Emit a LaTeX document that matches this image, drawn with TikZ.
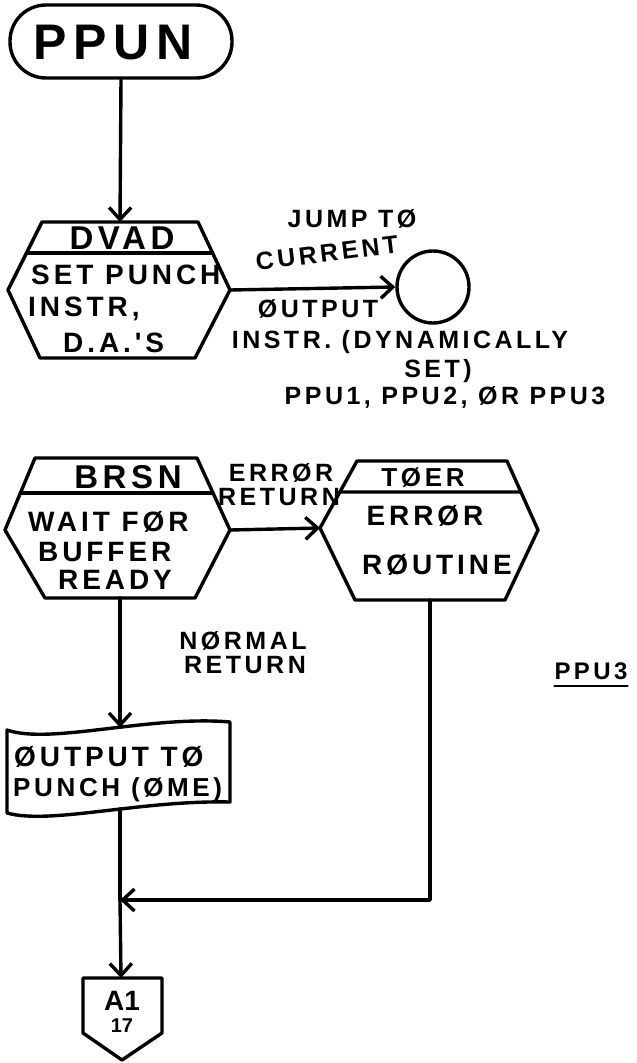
\documentclass[tikz,border=0pt]{standalone}
\usepackage{fontspec}
\setmainfont{Liberation Sans}
\newfontfamily\hand[LetterSpace=14]{Liberation Sans}
\usetikzlibrary{arrows.meta,calc}
\tikzset{
  ln/.style={line width=3.4pt, line join=round, line cap=round},
  arr/.style={ln, -{Straight Barb[length=12pt,width=22pt,line width=3.4pt]}},
  txt/.style={inner sep=0pt, font=\hand\bfseries\fontsize{28}{30}\selectfont},
  lbl/.style={inner sep=0pt, font=\hand\bfseries\fontsize{25}{28}\selectfont},
  ttl/.style={inner sep=0pt, font=\hand\bfseries\fontsize{33}{35}\selectfont},
}
\begin{document}
\begin{tikzpicture}[x=1pt,y=-1pt]
\useasboundingbox (0,0) rectangle (637,1063);
% terminal
\node[ln, draw, rounded corners=36pt, minimum width=222pt, minimum height=73pt] (ppun) at (121,41.5) {};
\node[inner sep=0pt, font=\hand\bfseries\fontsize{50}{52}\selectfont, anchor=west] (ppunt) at (33,43) {PPUN};

% DVAD hexagon
\coordinate (dT) at (120,222);
\coordinate (dR) at (230,290);
\coordinate (dB) at (120,358);
\draw[ln] (42,222) coordinate (dtl) -- (198,222) coordinate (dtr) -- (dR) -- (195,358) -- (40,358) -- (8,290) coordinate (dL) -- cycle;
\draw[ln] ($(dL)!0.544!(dtl)$) -- ($(dR)!0.544!(dtr)$);
\node[ttl] (dvad) at (122,238) {DVAD};
\node[txt, anchor=west] (d1) at (31,275) {SET PUNCH};
\node[txt, anchor=west] (d2) at (28,309) {INSTR,};
\node[txt, anchor=west] (d3) at (63,343) {D.A.'S};

% jump connector
\node[ln, draw, circle, minimum size=72pt, inner sep=0pt] (jump) at (433,287) {};
\draw[arr] (dR) -- (jump.west);
\node[lbl] (l1) at (352,219) {JUMP T\O};
\node[lbl, rotate=7] (l2) at (327,253) {CURRENT};
\node[lbl] (l3) at (318,309) {\O UTPUT};
\node[lbl] (l4) at (400,342) {INSTR. (DYNAMICALLY};
\node[lbl] (l5) at (438,371) {SET)};
\node[lbl] (l6) at (445,397) {PPU1, PPU2, \O R PPU3};

% BRSN hexagon
\coordinate (bR) at (230,530);
\coordinate (bB) at (120,598);
\draw[ln] (35,458) coordinate (btl) -- (197,458) coordinate (btr) -- (bR) -- (195,598) -- (45,598) -- (5,530) coordinate (bL) -- cycle;
\draw[ln] ($(bL)!0.514!(btl)$) -- ($(bR)!0.514!(btr)$);
\node[ttl] (brsn) at (128,477) {BRSN};
\node[txt, anchor=west] (b1) at (28,522) {WAIT F\O R};
\node[txt, anchor=west] (b2) at (38,552) {BUFFER};
\node[txt, anchor=west] (b3) at (58,580) {READY};

% TOER hexagon
\coordinate (tL) at (320,528);
\coordinate (tB) at (430,600);
\draw[ln] (357,461) coordinate (ttl) -- (507,461) coordinate (ttr) -- (538,530) coordinate (tR) -- (505,600) -- (355,600) -- (tL) -- cycle;
\draw[ln] ($(tL)!0.537!(ttl)$) -- ($(tR)!0.551!(ttr)$);
\node[inner sep=0pt, font=\hand\bfseries\fontsize{26}{28}\selectfont] (toer) at (423,478) {T\O ER};
\node[txt] (t1) at (425,516) {ERR\O R};
\node[txt] (t2) at (437,565) {R\O UTINE};

\draw[arr] (bR) -- (tL);
\node[lbl] (e1) at (281,473) {ERR\O R};
\node[lbl] (e2) at (279,497) {RETURN};

% output (punched tape)
\draw[ln] (7,730) .. controls (50,745) and (150,715) .. (230,722) -- (230,802)
   .. controls (140,800) and (50,825) .. (7,813) -- cycle;
\coordinate (oT) at (120,727.5);
\coordinate (oB) at (120,809);
\node[txt, anchor=west] (o1) at (14,757) {\O UTPUT T\O};
\node[txt, anchor=west, font=\hand\bfseries\fontsize{26}{28}\selectfont] (o2) at (13,790) {PUNCH (\O ME)};

\draw[arr] (bB) -- (oT);
\node[lbl] (n1) at (243,641) {N\O RMAL};
\node[lbl] (n2) at (245,665) {RETURN};

% off-page connector
\draw[ln] (83,978) -- (162,978) -- (162,1033) -- (122,1060) -- (83,1033) -- cycle;
\coordinate (aT) at (121,978);
\node[inner sep=0pt, font=\bfseries\fontsize{28}{30}\selectfont] (a1) at (122,1001) {A1};
\node[inner sep=0pt, font=\bfseries\fontsize{20}{22}\selectfont] (a2) at (122,1026) {17};

% merge
\coordinate (m) at (120,900);
\coordinate (mr) at (430,900);
\draw[ln] (oB) -- (m);
\draw[arr] (tB) -- (mr) -- (m);
\draw[arr] (m) -- (aT);
\draw[arr] (ppun.south) -- (dT);

% page label
\node[inner sep=0pt, font=\hand\bfseries\fontsize{24}{26}\selectfont] (p3) at (591,671) {PPU3};
\draw[ln, line width=2.4pt] ($(p3.south west)+(0,6)$) -- ($(p3.south east)+(0,6)$);
\end{tikzpicture}
\end{document}
